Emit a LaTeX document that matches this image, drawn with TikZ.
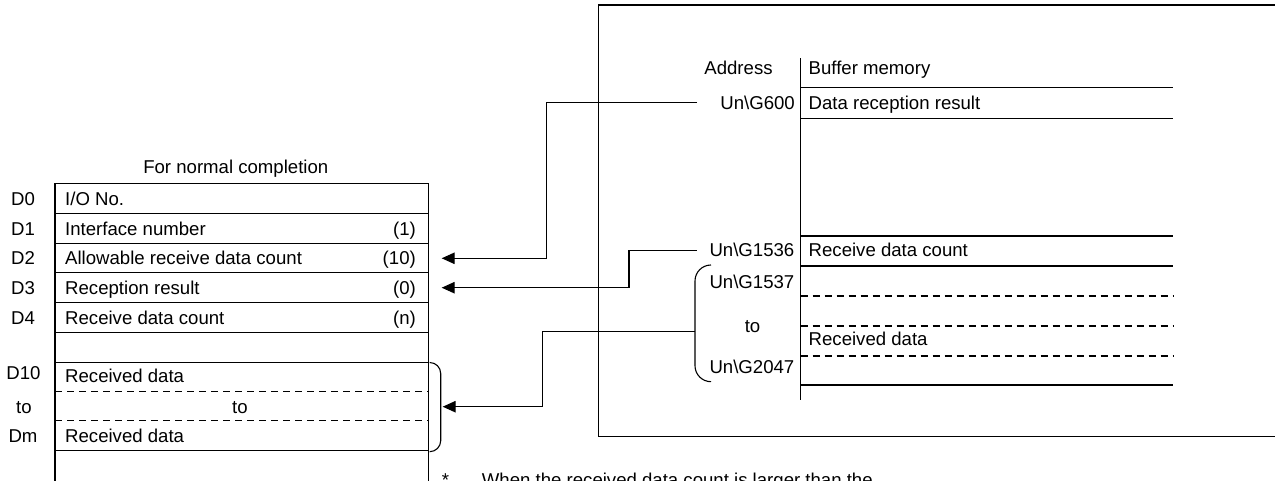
\documentclass[tikz,border=0pt]{standalone}
\usepackage{fontspec}
\setmainfont{Liberation Sans}
\usetikzlibrary{arrows.meta}
\begin{document}
\begin{tikzpicture}[x=1pt,y=-1pt,
  txt/.style={inner sep=0pt, text height=13.3pt, text depth=0pt, font=\fontsize{18.6}{20}\selectfont},
  ln/.style={line width=1.1pt, draw=black},
  dsh/.style={ln, dash pattern=on 7pt off 5pt},
  conn/.style={line width=1.1pt, -{Triangle[length=13pt,width=11.5pt]}},
  brk/.style={line width=1.1pt, rounded corners=11pt},
]
\useasboundingbox (0,0) rectangle (1275,481);
\clip (0,0) rectangle (1275,481);

% ---------- left table ----------
\node[txt] (title) at (235.8,166.7) {For normal completion};
\draw[ln] (55,183.3) -- (55,495);
\draw[ln] (428.3,183.3) -- (428.3,495);
\foreach \y in {183.3,213.3,243.3,272.7,302.7,332.3,362.3,450.7}
  \draw[ln] (55,\y) -- (428.3,\y);
\foreach \y in {391.7,420.7}
  \draw[dsh] (55,\y) -- (428.3,\y);

\node[txt] (d0) at (23,198.5) {D0};
\node[txt] (d1) at (23,228.5) {D1};
\node[txt] (d2) at (23,258.2) {D2};
\node[txt] (d3) at (23,287.7) {D3};
\node[txt] (d4) at (23,318) {D4};
\node[txt] (d10) at (23.5,373.3) {D10};
\node[txt] (dto) at (24,406.5) {to};
\node[txt] (dm) at (23,435.7) {Dm};

\node[txt,anchor=west] (c0) at (65,198.5) {I/O No.};
\node[txt,anchor=west] (c1) at (65,228.5) {Interface number};
\node[txt,anchor=west] (c2) at (65,258.2) {Allowable receive data count};
\node[txt,anchor=west] (c3) at (65,287.7) {Reception result};
\node[txt,anchor=west] (c4) at (65,318) {Receive data count};
\node[txt,anchor=west] (c10) at (65,376) {Received data};
\node[txt] (cto) at (240,406.5) {to};
\node[txt,anchor=west] (cm) at (65,435.7) {Received data};

\node[txt,anchor=east] (v1) at (416,228.5) {(1)};
\node[txt,anchor=east] (v2) at (416,258.2) {(10)};
\node[txt,anchor=east] (v3) at (416,287.7) {(0)};
\node[txt,anchor=east] (v4) at (416,318) {(n)};

% bracket for D10..Dm
\draw[brk] (429.5,362.5) -- (440.7,362.5) -- (440.7,451.7) -- (429.5,451.7);

% ---------- right frame ----------
\draw[line width=1.2pt] (1280,5) -- (598.8,5) -- (598.8,436.7) -- (1280,436.7);

% buffer memory table
\draw[ln] (800.5,58.3) -- (800.5,400);
\foreach \y in {87.3,118.3,236,266,385}
  \draw[ln] (800.5,\y) -- (1173,\y);
\foreach \y in {296,326,356}
  \draw[dsh] (800.5,\y) -- (1173,\y);

\node[txt] (addr) at (738.5,68.3) {Address};
\node[txt,anchor=west] (bufm) at (808.5,68.3) {Buffer memory};
\node[txt,anchor=east] (g600) at (795,102.7) {Un\textbackslash G600};
\node[txt,anchor=west] (drr) at (808.5,102.7) {Data reception result};
\node[txt,anchor=east] (g1536) at (794.5,250) {Un\textbackslash G1536};
\node[txt,anchor=west] (rdc) at (808.5,250) {Receive data count};
\node[txt,anchor=east] (g1537) at (794.5,281.5) {Un\textbackslash G1537};
\node[txt] (gto) at (752.5,325.5) {to};
\node[txt,anchor=west] (rd) at (808.5,339) {Received data};
\node[txt,anchor=east] (g2047) at (794.5,367) {Un\textbackslash G2047};

% bracket for G1537..G2047
\draw[line width=1.1pt, rounded corners=16pt] (711,265) -- (695,265) -- (695,381.7) -- (711,381.7);

% ---------- connectors ----------
\coordinate (s1) at (697,102.7);
\coordinate (k1) at (546.7,0);
\coordinate (t1) at (441.7,258.3);
\coordinate (s2) at (696.7,250.7);
\coordinate (k2) at (629,0);
\coordinate (t2) at (441.7,287.7);
\coordinate (s3) at (695,331.7);
\coordinate (k3) at (542.3,0);
\coordinate (t3) at (442.7,406.7);

\draw[conn] (s1) -- (s1 -| k1) -- (k1 |- t1) -- (t1);
\draw[conn] (s2) -- (s2 -| k2) -- (k2 |- t2) -- (t2);
\draw[conn] (s3) -- (s3 -| k3) -- (k3 |- t3) -- (t3);

% ---------- footnote (cut off) ----------
\node[inner sep=0pt, anchor=base west, font=\fontsize{18.6}{20}\selectfont] (star) at (441.7,486.3) {*};
\node[inner sep=0pt, anchor=base west, font=\fontsize{18.6}{20}\selectfont] (fn) at (481.7,486.3) {When the received data count is larger than the};
\end{tikzpicture}
\end{document}
